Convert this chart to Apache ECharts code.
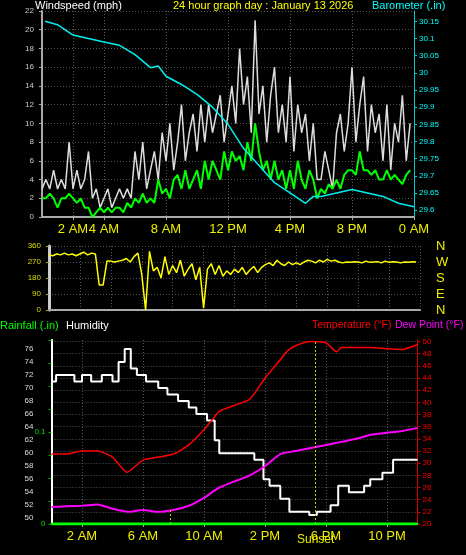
<!DOCTYPE html>
<html>
<head>
<meta charset="utf-8">
<script src="https://cdn.jsdelivr.net/npm/echarts@6/dist/echarts.min.js"></script>
<style>
  html, body { margin: 0; padding: 0; background: #000; }
  #chart { width: 466px; height: 555px; }
</style>
</head>
<body>
<div id="chart"></div>
<script>
// 风速（每 15 分钟一个点）
const gust = [3,4,3,5, 3,4,3,8, 3,5,3,4, 7,2,3,1, 2,3,1,2, 3,2,3,2, 7,4,8,3, 5,7,4,9,
  6,10,5,8, 12,6,9,11, 7,12,8,12, 9,11,13,8, 11,14,10,18, 12,15,9,21, 11,14,8,13, 16,9,12,8,
  15,7,12,9, 11,6,10,4, 4,7,5,3, 9,11,7,10, 16,8,12,15, 7,12,9,11, 6,12,5,10, 8,13,6,10];
const windAvg = [2,2,2.5,2, 1,2,2,2.5, 2,1.5,2,1, 1,0,0.5,1, 0.5,1,0.5,1, 1,0.5,1.5,1, 2,1.5,2.5,1.5, 2,1.5,4,2.5,
  3,2,4,4.5, 3,5,3,4, 5,3,6,4, 6,5,4,7, 5,7,6,6.5, 5,8,6,10, 7,5,6,4, 6,4,5,3,
  5,3,6,4, 3,5,4,2, 3,2.5,3.5,3, 4,3,4.5,5, 5,4.5,7,5, 5,4.5,5,4, 4,5,4,4.5, 4,3.5,4.5,5];
// 风向（每 15 分钟）
const windDir = [310,305,315,310, 320,310,315,305, 315,325,310,320, 315,140,140,275, 275,270,275,280, 290,270,300,320,
  200,0,330,220, 240,180,300,200, 250,210,280,190, 230,260,170,240, 10,230,260,200, 250,190,220,200,
  230,210,240,200, 225,245,210,240, 255,265,250,280, 260,250,270,255, 265,255,270,280, 275,265,280,270,
  285,275,280,270, 265,270,268,272, 270,265,275,268, 270,272,265,275, 268,272,270,265, 270,268,272,270];
// 气压（小时）
const baroHours = [0.2,1,2,3,4,5,6,7,7.5,8,9,10,11,12,13,14,15,16,17,17.5,18,19,20,21,22,23,24];
const baroValues = [30.15,30.14,30.11,30.10,30.09,30.08,30.053,30.015,30.02,29.99,29.966,29.937,29.9,29.85,29.78,29.73,29.68,29.65,29.62,29.64,29.64,29.65,29.66,29.65,29.64,29.62,29.61];
// 湿度
const humHours = [0,0.3,1.5,2,2.6,3.3,4,4.4,4.8,5.2,5.6,6.2,7,7.6,8.3,9,9.5,10.2,10.7,11,12.5,13.3,13.9,14.3,15,15.6,16.9,17.4,18.3,18.8,19.5,20.5,20.9,21.7,22.4,24];
const humValues = [71,72,71,72,71,72,71,74,76,73,72,71,70,69,68,67,66,65,62,60,60,59,56,55,53,51,50.5,51,52,55,54,55,56,57,59,59];
// 温度、露点（小时）
const tempHours = [0,1,2,3,4,4.95,6,7,8,9,10,10.5,11,12,13,14,15,15.5,16,17,18,18.7,19,20,21,22,23,24];
const tempValues = [31.5,31.5,32,32,31,28.5,30.5,31,31.5,33,35.5,37,38.5,39.5,40.5,44,47,48.5,49.3,50,49.8,48.3,49,49,49,48.8,48.7,49.5];
const dewHours = [0,2,3,4,5,6,7,8,9,10,11,12,13,14,15,16,17,18,19,20,21,22,23,24];
const dewValues = [22.8,23,23.2,22.5,22,22.3,22,22.3,23,24.3,26,27,28,29.5,31.5,32,32.5,33,33.5,34,34.7,35,35.3,35.8];
const rainValues = [0, 0];

const topTicks = [2,4,8,12,16,20,24];
const bottomTicks = [2,6,10,14,18,22];
const compass = { 0: 'N', 90: 'E', 180: 'S', 270: 'W', 360: 'N' };

const hourLabel = h => {
  const hh = h % 24;
  if (hh === 0) return '0 AM';
  if (hh < 12) return hh + ' AM';
  if (hh === 12) return '12 PM';
  return (hh - 12) + ' PM';
};
const q = (arr) => arr.map((v, i) => [i * 0.25, v]);
const zip = (a, b) => a.map((v, i) => [v, b[i]]);

const font = 'Liberation Sans';

const chart = echarts.init(document.getElementById('chart'));
chart.setOption({
  backgroundColor: '#000',
  animation: false,
  textStyle: { fontFamily: font },
  graphic: [
    { type: 'text', left: 35, top: 0, style: { text: 'Windspeed (mph)', fill: '#fff', font: '11px ' + font } },
    { type: 'text', left: 173, top: 0, style: { text: '24 hour graph day : January 13 2026', fill: '#ff0', font: '11px ' + font } },
    { type: 'text', left: 372, top: 0, style: { text: 'Barometer (.in)', fill: '#0ff', font: '11px ' + font } },
    { type: 'text', left: 0, top: 320, style: { text: 'Rainfall (.in)', fill: '#0f0', font: '11px ' + font } },
    { type: 'text', left: 66, top: 320, style: { text: 'Humidity', fill: '#fff', font: '11px ' + font } },
    { type: 'text', left: 312, top: 320, style: { text: 'Temperature (°F)', fill: '#f00', font: '10.5px ' + font } },
    { type: 'text', left: 395, top: 320, style: { text: 'Dew Point (°F)', fill: '#f0f', font: '10.5px ' + font } },
    { type: 'text', left: 297, top: 534, style: { text: 'Sunset', fill: '#ee0', font: '12px ' + font } }
  ],
  grid: [
    { left: 42, right: 52, top: 11, height: 206 },
    { left: 49, right: 46, top: 246, height: 64 },
    { left: 51.5, right: 48.5, top: 340, height: 184 }
  ],
  xAxis: [0, 1, 2].map(i => ({
    type: 'value', gridIndex: i, min: 0, max: 24,
    axisLine: { show: true, onZero: false, lineStyle: { color: '#aaa', width: 2 } },
    axisTick: i === 1 ? { show: false } : { show: true, length: 3, lineStyle: { color: '#aaa' },
      customValues: i === 0 ? topTicks : bottomTicks },
    axisLabel: i === 1 ? { show: false } : {
      color: '#ee0', fontSize: 13, margin: 6,
      customValues: i === 0 ? topTicks : bottomTicks,
      formatter: hourLabel
    },
    splitLine: { show: true, lineStyle: { color: '#555', type: [1, 2] } },
    interval: 2
  })),
  yAxis: [
    { type: 'value', gridIndex: 0, position: 'left', min: 0, max: 22, interval: 2,
      axisLine: { show: true, lineStyle: { color: '#aaa', width: 2 } },
      axisTick: { show: true, length: 3 },
      axisLabel: { color: '#ccc', fontSize: 8, margin: 8 },
      splitLine: { show: true, lineStyle: { color: '#555', type: [1, 2] } } },
    { type: 'value', gridIndex: 0, position: 'right', min: 29.58, max: 30.18,
      axisLine: { show: true, lineStyle: { color: '#0cc', width: 1 } },
      axisTick: { show: true, length: 3, customValues: [29.6,29.65,29.7,29.75,29.8,29.85,29.9,29.95,30,30.05,30.1,30.15] },
      axisLabel: { color: '#0ff', fontSize: 8, margin: 5,
        customValues: [29.6,29.65,29.7,29.75,29.8,29.85,29.9,29.95,30,30.05,30.1,30.15],
        formatter: v => String(+v.toFixed(2)) },
      splitLine: { show: false } },
    { type: 'value', gridIndex: 1, position: 'left', min: 0, max: 360, interval: 90,
      axisLine: { show: true, lineStyle: { color: '#ccc', width: 3 } },
      axisTick: { show: true, length: 3, lineStyle: { color: '#aa0' } },
      axisLabel: { color: '#dd0', fontSize: 8, margin: 8 },
      splitLine: { show: true, lineStyle: { color: '#555', type: [1, 2] } } },
    { type: 'value', gridIndex: 1, position: 'right', min: 0, max: 360, interval: 90,
      axisLine: { show: false }, axisTick: { show: false },
      axisLabel: { color: '#ee0', fontSize: 13, margin: 16, formatter: v => compass[v] },
      splitLine: { show: false } },
    { type: 'value', gridIndex: 2, position: 'left', min: 49.1, max: 77.4, offset: 14,
      axisLine: { show: false }, axisTick: { show: false },
      axisLabel: { color: '#ddd', fontSize: 8, margin: 4,
        customValues: [50,52,54,56,58,60,62,64,66,68,70,72,74,76] },
      splitLine: { show: false } },
    { type: 'value', gridIndex: 2, position: 'left', offset: 0, min: 0, max: 0.2,
      axisLine: { show: true, lineStyle: { color: '#fff', width: 2 } },
      axisTick: { show: true, length: 3, lineStyle: { color: '#0a0' },
        customValues: [0, 0.025, 0.05, 0.075, 0.1, 0.125, 0.15, 0.175, 0.2] },
      axisLabel: { color: '#0d0', fontSize: 8, margin: 6, customValues: [0, 0.1] },
      splitLine: { show: false } },
    { type: 'value', gridIndex: 2, position: 'right', min: 20, max: 50.25,
      axisLine: { show: true, lineStyle: { color: '#c00', width: 1 } },
      axisTick: { show: true, length: 3, customValues: [20,22,24,26,28,30,32,34,36,38,40,42,44,46,48,50] },
      axisLabel: { color: '#f00', fontSize: 8, margin: 5,
        customValues: [20,22,24,26,28,30,32,34,36,38,40,42,44,46,48,50] },
      splitLine: { show: true, lineStyle: { color: '#555', type: [1, 2] } } }
  ],
  series: [
    { name: 'Gust', type: 'line', xAxisIndex: 0, yAxisIndex: 0, data: q(gust), symbol: 'none',
      lineStyle: { color: '#ddd', width: 1.5 } },
    { name: 'Wind', type: 'line', xAxisIndex: 0, yAxisIndex: 0, data: q(windAvg), symbol: 'none',
      lineStyle: { color: '#0f0', width: 2 } },
    { name: 'Barometer', type: 'line', xAxisIndex: 0, yAxisIndex: 1, data: zip(baroHours, baroValues), symbol: 'none',
      lineStyle: { color: '#0ee', width: 1.5 } },
    { name: 'Direction', type: 'line', xAxisIndex: 1, yAxisIndex: 2, data: q(windDir), symbol: 'none',
      lineStyle: { color: '#ff0', width: 1.5 } },
    { name: 'Humidity', type: 'line', xAxisIndex: 2, yAxisIndex: 4, data: zip(humHours, humValues), symbol: 'none', step: 'end',
      lineStyle: { color: '#fff', width: 2 } },
    { name: 'Rainfall', type: 'line', xAxisIndex: 2, yAxisIndex: 5, data: zip([0, 24], rainValues), symbol: 'none',
      lineStyle: { color: '#0f0', width: 3 },
      markLine: { symbol: 'none', silent: true, label: { show: false },
        lineStyle: { color: '#cc0', type: [2, 2], width: 1 },
        data: [[{ coord: [7.77, 0] }, { coord: [7.77, 0.015] }], { xAxis: 17.3 }] } },
    { name: 'Temperature', type: 'line', xAxisIndex: 2, yAxisIndex: 6, data: zip(tempHours, tempValues), symbol: 'none', smooth: 0.2,
      lineStyle: { color: '#f00', width: 1.5 } },
    { name: 'Dew Point', type: 'line', xAxisIndex: 2, yAxisIndex: 6, data: zip(dewHours, dewValues), symbol: 'none', smooth: 0.2,
      lineStyle: { color: '#f0f', width: 2 } }
  ]
});
</script>
</body>
</html>
